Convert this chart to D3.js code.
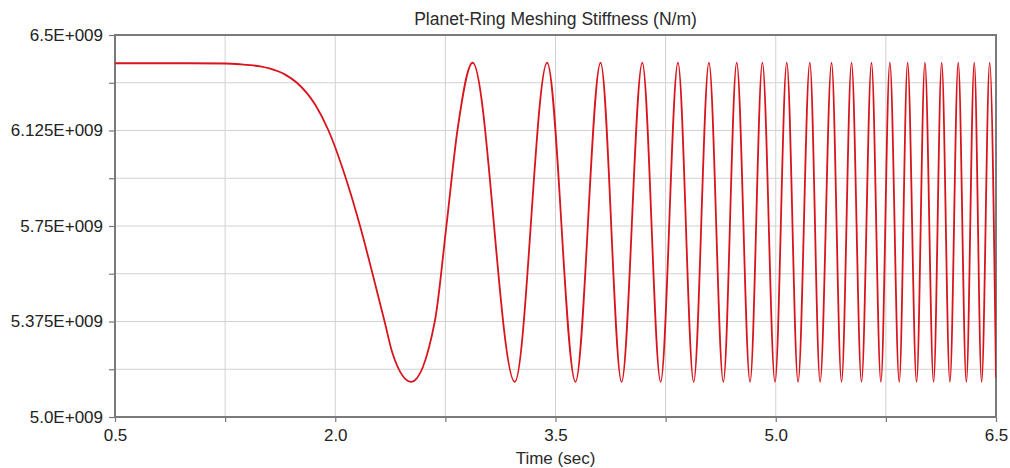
<!DOCTYPE html>
<html>
<head>
<meta charset="utf-8">
<script src="https://cdn.jsdelivr.net/npm/d3@7"></script>
<style>
  body { margin: 0; background: #fff; }
  svg { display: block; font-family: "Liberation Sans", Arial, sans-serif; }
</style>
</head>
<body>
<svg width="1010" height="468"></svg>
<script>
// values (time in sec, stiffness in N/m)
const rampTime  = [0.5, 1.0, 1.25, 1.352, 1.42, 1.489, 1.557, 1.659, 1.739, 1.864, 1.954,
                   2.072, 2.169, 2.254, 2.336, 2.39];
const rampValue = [6.389e9, 6.389e9, 6.388e9, 6.3852e9, 6.3821e9, 6.3766e9, 6.3676e9, 6.3445e9,
                   6.3125e9, 6.2258e9, 6.125e9, 5.9375e9, 5.75e9, 5.5625e9, 5.375e9, 5.25e9];
const riseTime  = [2.678, 2.757, 2.832];
const riseValue = [5.375e9, 5.75e9, 6.125e9];
const peakTime  = [2.936, 3.443, 3.807, 4.091, 4.334, 4.545, 4.734, 4.909, 5.075, 5.232,
                   5.380, 5.516, 5.652, 5.777, 5.898, 6.016, 6.130, 6.243, 6.352, 6.457];
const troughTime = [2.517, 3.223, 3.636, 3.950, 4.216, 4.441, 4.643, 4.825, 4.995, 5.152,
                    5.302, 5.448, 5.584, 5.716, 5.841, 5.959, 6.075, 6.186, 6.298, 6.402];
const peakLevel = 6.391e9;
const troughLevel = 5.138e9;
const endTime = 6.5, endValue = 5.155e9;

const xTicks = [0.5, 1.25, 2.0, 2.75, 3.5, 4.25, 5.0, 5.75, 6.5];
const xTickLabels = ["0.5", "", "2.0", "", "3.5", "", "5.0", "", "6.5"];
const yTicks = [5.0e9, 5.1875e9, 5.375e9, 5.5625e9, 5.75e9, 5.9375e9, 6.125e9, 6.3125e9, 6.5e9];
const yTickLabels = ["5.0E+009", "", "5.375E+009", "", "5.75E+009", "", "6.125E+009", "", "6.5E+009"];

const title = "Planet-Ring Meshing Stiffness (N/m)";
const xTitle = "Time (sec)";

// build the series from the arrays above
let points = rampTime.map((t, i) => [t, rampValue[i]]);
points = points.concat(riseTime.map((t, i) => [t, riseValue[i]]));
points = points.concat(peakTime.map(t => [t, peakLevel]));
points = points.concat(troughTime.map(t => [t, troughLevel]));
points.push([endTime, endValue]);
points.sort((a, b) => a[0] - b[0]);

const margin = {left: 115, right: 14, top: 35, bottom: 51};
const width = 1010, height = 468;

const svg = d3.select("svg");

const x = d3.scaleLinear().domain([0.5, 6.5]).range([margin.left, width - margin.right]);
const y = d3.scaleLinear().domain([5.0e9, 6.5e9]).range([height - margin.bottom, margin.top]);

// grid
svg.append("g")
    .selectAll("line")
    .data(xTicks)
    .join("line")
    .attr("x1", d => x(d)).attr("x2", d => x(d))
    .attr("y1", y(6.5e9)).attr("y2", y(5.0e9))
    .attr("stroke", "#d2d2d2")
    .attr("stroke-width", 1);

svg.append("g")
    .selectAll("line")
    .data(yTicks)
    .join("line")
    .attr("x1", x(0.5)).attr("x2", x(6.5))
    .attr("y1", d => y(d)).attr("y2", d => y(d))
    .attr("stroke", "#d2d2d2")
    .attr("stroke-width", 1);

// axes
const xAxis = svg.append("g")
    .attr("transform", `translate(0,${y(5.0e9)})`)
    .call(d3.axisBottom(x).tickValues(xTicks).tickSize(5).tickPadding(7)
        .tickFormat((d, i) => xTickLabels[i]));

const yAxis = svg.append("g")
    .attr("transform", `translate(${x(0.5)},0)`)
    .call(d3.axisLeft(y).tickValues(yTicks).tickSize(6).tickPadding(6)
        .tickFormat((d, i) => yTickLabels[i]));

[xAxis, yAxis].forEach(g => {
    g.select(".domain").remove();
    g.selectAll("line").attr("stroke", "#777").attr("stroke-width", 1.2);
    g.selectAll("text")
        .attr("font-family", "'Liberation Sans', Arial, sans-serif")
        .attr("font-size", 17)
        .attr("fill", "#222");
});

// frame
svg.append("rect")
    .attr("x", x(0.5)).attr("y", y(6.5e9))
    .attr("width", x(6.5) - x(0.5))
    .attr("height", y(5.0e9) - y(6.5e9))
    .attr("fill", "none")
    .attr("stroke", "#7a7a7a")
    .attr("stroke-width", 2);

// curve
svg.append("clipPath").attr("id", "plot")
    .append("rect")
    .attr("x", x(0.5)).attr("y", y(6.5e9))
    .attr("width", x(6.5) - x(0.5))
    .attr("height", y(5.0e9) - y(6.5e9));

const line = d3.line()
    .x(d => x(d[0]))
    .y(d => y(d[1]))
    .curve(d3.curveMonotoneX);

svg.append("path")
    .datum(points)
    .attr("clip-path", "url(#plot)")
    .attr("fill", "none")
    .attr("stroke", "#d8141c")
    .attr("stroke-width", 1.8)
    .attr("stroke-linejoin", "round")
    .attr("d", line);

// titles
svg.append("text")
    .attr("x", (x(0.5) + x(6.5)) / 2)
    .attr("y", 25)
    .attr("text-anchor", "middle")
    .attr("font-size", 17.5)
    .attr("fill", "#2a2a2a")
    .text(title);

svg.append("text")
    .attr("x", (x(0.5) + x(6.5)) / 2)
    .attr("y", 464)
    .attr("text-anchor", "middle")
    .attr("font-size", 17)
    .attr("fill", "#2a2a2a")
    .text(xTitle);
</script>
</body>
</html>
